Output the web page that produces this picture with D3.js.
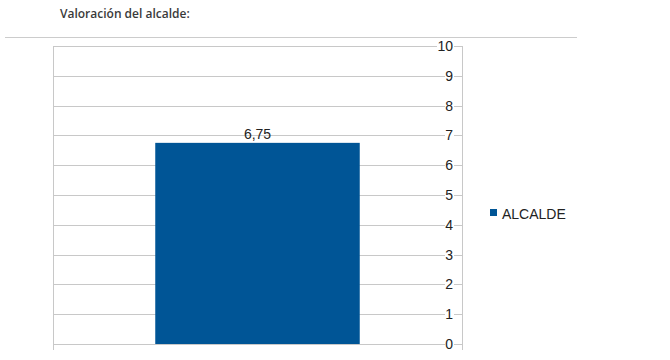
<!DOCTYPE html>
<html><head><meta charset="utf-8">
<script src="https://cdn.jsdelivr.net/npm/d3@7/dist/d3.min.js"></script>
<style>body{margin:0;background:#fff;}svg{display:block;}</style>
</head><body>
<script>
const categories = ["ALCALDE"];
const values = [6.75];
const valueLabels = ["6,75"];
const yTicks = [0,1,2,3,4,5,6,7,8,9,10];
const title = "Valoración del alcalde:";

(function () {
const W = 670, H = 360;
const svg = d3.select("body").append("svg").attr("width", W).attr("height", H);

// header
svg.append("text").attr("x", 60).attr("y", 18).text(title)
  .attr("font-family", "Open Sans, sans-serif").attr("font-weight", 600)
  .attr("font-size", 12).attr("fill", "#3a3a3a");
svg.append("line").attr("x1", 5).attr("x2", 577).attr("y1", 37.5).attr("y2", 37.5)
  .attr("stroke", "#ccc").attr("stroke-width", 1.2);

const pl = 53, pr = 462, pt = 46, pb = 344;
const x = d3.scaleBand().domain(categories).range([pl, pr]).paddingInner(0).paddingOuter(0.5);
const y = d3.scaleLinear().domain([0, 10]).range([pb, pt]);

// gridlines
svg.append("g").selectAll("line").data(yTicks).join("line")
  .attr("x1", pl).attr("x2", pr)
  .attr("y1", d => Math.round(y(d)) + 0.5).attr("y2", d => Math.round(y(d)) + 0.5)
  .attr("stroke", "#c8c8c8").attr("stroke-width", 1);

// frame
svg.append("line").attr("x1", pl + 0.5).attr("x2", pl + 0.5).attr("y1", pt).attr("y2", pb + 6)
  .attr("stroke", "#c8c8c8");
svg.append("line").attr("x1", pr + 0.5).attr("x2", pr + 0.5).attr("y1", pt).attr("y2", pb + 6)
  .attr("stroke", "#c8c8c8");

// bars
const bw = x.bandwidth();
svg.append("g").selectAll("rect").data(values).join("rect")
  .attr("x", (d, i) => x(categories[i]))
  .attr("width", bw)
  .attr("y", d => y(d)).attr("height", d => y(0) - y(d))
  .attr("fill", "#005596");

// value labels
svg.append("g").selectAll("text").data(values).join("text")
  .attr("x", (d, i) => x(categories[i]) + bw / 2)
  .attr("y", d => y(d) - 4)
  .attr("text-anchor", "middle")
  .attr("font-family", "Liberation Sans, Arial, sans-serif").attr("font-size", 14).attr("fill", "#222")
  .text((d, i) => valueLabels[i]);

// y axis labels (right side)
const ax = svg.append("g");
ax.selectAll("rect").data(yTicks).join("rect")
  .attr("x", d => 453 - (d >= 10 ? 16 : 8)).attr("y", d => y(d) - 6)
  .attr("width", d => d >= 10 ? 17 : 9).attr("height", 11).attr("fill", "#fff");
ax.selectAll("text").data(yTicks).join("text")
  .attr("x", 453).attr("y", d => y(d) + 5)
  .attr("text-anchor", "end")
  .attr("font-family", "Liberation Sans, Arial, sans-serif").attr("font-size", 14).attr("fill", "#222")
  .text(d => d);

// legend
const lg = svg.append("g").attr("transform", "translate(490,209)");
lg.append("rect").attr("width", 7).attr("height", 7).attr("fill", "#005596");
lg.append("text").attr("x", 12).attr("y", 9.5).text(categories[0])
  .attr("font-family", "Liberation Sans, Arial, sans-serif").attr("font-size", 14).attr("fill", "#222");
})();
</script>
</body></html>
